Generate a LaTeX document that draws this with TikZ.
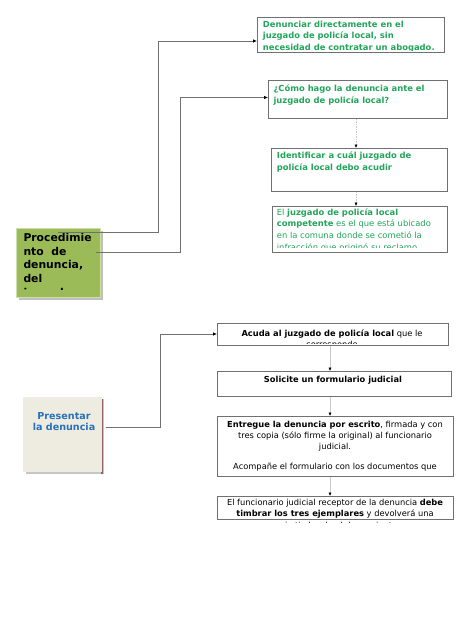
\documentclass[tikz,border=0pt]{standalone}
\usepackage{fontspec}
\setmainfont{DejaVu Sans}
\usetikzlibrary{arrows.meta}
\definecolor{tgreen}{RGB}{35,165,90}
\definecolor{olivefill}{RGB}{155,187,89}
\definecolor{oliveedge}{RGB}{205,222,170}
\definecolor{beigefill}{RGB}{238,236,225}
\definecolor{tblue}{RGB}{40,112,185}
\definecolor{lineg}{RGB}{112,112,112}
\definecolor{faint}{RGB}{200,200,200}
\definecolor{pshadow}{RGB}{140,100,100}
\begin{document}
\begin{tikzpicture}[x=1pt,y=-1pt,
  boxline/.style={draw=lineg, line width=0.9pt, anchor=north west, inner sep=0pt},
  gtxt/.style={inner sep=0pt, text=tgreen, font=\fontsize{8.4}{10}\selectfont},
  btxt/.style={inner sep=0pt, text=black, font=\fontsize{8.3}{10}\selectfont, anchor=base},
  ptxt/.style={inner sep=0pt, text=black, font=\fontsize{10.8}{12}\selectfont\bfseries, anchor=base west},
  conn/.style={draw=lineg, line width=0.9pt, -{Latex[length=4pt,width=3.6pt,color=black]}},
  vconn/.style={draw=faint, line width=0.8pt, -{Latex[length=3.5pt,width=3.2pt,color=black]}},
  tconn/.style={draw=faint, line width=0.8pt, dash pattern=on 1.5pt off 1pt, -{Latex[length=3.5pt,width=3.2pt,color=black]}}
]
\useasboundingbox (0,0) rectangle (474,632);
\fill[white] (0,0) rectangle (474,632);

% ---------- upper part ----------
\node[boxline, minimum width=187pt, minimum height=35pt] (b1) at (257,17) {};
\node[boxline, minimum width=179pt, minimum height=38pt] (b2) at (268,80) {};
\node[boxline, minimum width=176pt, minimum height=43pt] (b3) at (271,148) {};
\node[boxline, minimum width=175pt, minimum height=46pt] (b4) at (272,206) {};

\begin{scope}
\clip (257,17) rectangle (444,50.6);
\node[gtxt, anchor=base west] (b1l1) at (262.7,27.3) {\bfseries Denunciar directamente en el};
\node[gtxt, anchor=base west] (b1l2) at (262.7,38.7) {\bfseries juzgado de policía local, sin};
\node[gtxt, anchor=base west] (b1l3) at (262.7,50.3) {\bfseries necesidad de contratar un abogado.};
\end{scope}

\node[gtxt, anchor=base west] (b2l1) at (273.3,91.7) {\bfseries ¿Cómo hago la denuncia ante el};
\node[gtxt, anchor=base west] (b2l2) at (273.3,103.3) {\bfseries juzgado de policía local?};

\node[gtxt, anchor=base west] (b3l1) at (276.7,158.3) {\bfseries Identificar a cuál juzgado de};
\node[gtxt, anchor=base west] (b3l2) at (276.7,170) {\bfseries policía local debo acudir};

\begin{scope}
\clip (272,206) rectangle (447,247.8);
\node[gtxt, anchor=base west] (b4l1) at (276.7,215) {El \bfseries juzgado de policía local};
\node[gtxt, anchor=base west] (b4l2) at (276.7,226.7) {\textbf{competente} es el que está ubicado};
\node[gtxt, anchor=base west] (b4l3) at (276.7,238.5) {en la comuna donde se cometió la};
\node[gtxt, anchor=base west] (b4l4) at (276.7,250.4) {infracción que originó su reclamo};
\end{scope}

% green box
\fill[gray!50] (18.5,230.5) rectangle (103,300);
\node[anchor=north west, fill=olivefill, draw=oliveedge, line width=1.2pt, minimum width=84pt, minimum height=69pt, inner sep=0pt] (gbox) at (16,228) {};
\begin{scope}
\clip (16,228) rectangle (101,289.3);
\node[ptxt] (gl1) at (23.3,241.5) {Procedimie};
\node[ptxt] (gl2) at (23.3,255.2) {nto\ \ de};
\node[ptxt] (gl3) at (23.3,268.9) {denuncia,};
\node[ptxt] (gl4) at (23.3,282.6) {del};
\node[ptxt] (gl5) at (23.3,296.3) {juzgado};
\end{scope}

\coordinate (g1) at (58,232);
\coordinate (k1) at (158,41);
\coordinate (g2) at (96,252);
\coordinate (k2) at (180,97.5);
\draw[conn] (g1) -| (k1) -- (k1 -| b1.west);
\draw[conn] (g2) -| (k2) -- (k2 -| b2.west);

\coordinate (vt) at (356,0);
\draw[tconn] (b2.south -| vt) -- (b3.north -| vt);
\draw[tconn] (b3.south -| vt) -- (b4.north -| vt);

% ---------- lower part ----------
\fill[gray!45] (25.5,399) rectangle (103.5,474);
\fill[pshadow] (101.3,399) rectangle (103.3,474);
\node[anchor=north west, fill=beigefill, draw=white!85!gray, line width=0.6pt, minimum width=78pt, minimum height=74pt, inner sep=0pt] (pbox) at (23,397) {};
\node[inner sep=0pt, anchor=base, text=tblue, font=\fontsize{9.6}{11}\selectfont\bfseries] (pl1) at (64,419) {Presentar};
\node[inner sep=0pt, anchor=base, text=tblue, font=\fontsize{9.6}{11}\selectfont\bfseries] (pl2) at (64,430.7) {la denuncia};

\node[boxline, minimum width=231pt, minimum height=22pt] (bA) at (217,323) {};
\node[boxline, minimum width=234pt, minimum height=25pt] (bB) at (217,371) {};
\node[boxline, minimum width=236pt, minimum height=60pt] (bC) at (217,416) {};
\node[boxline, minimum width=236pt, minimum height=23pt] (bD) at (217,496) {};

\begin{scope}
\clip (217,323) rectangle (448,343.2);
\node[btxt] (aL1) at (332,336) {\textbf{Acuda al juzgado de policía local} que le};
\node[btxt] (aL2) at (332,347.6) {corresponde};
\end{scope}

\node[btxt] (bL1) at (333,382.3) {\textbf{Solicite un formulario judicial}};

\begin{scope}
\clip (217,416) rectangle (453,473.5);
\node[btxt] (cL1) at (335,427.3) {\textbf{Entregue la denuncia por escrito}, firmada y con};
\node[btxt] (cL2) at (335,438.3) {tres copia (sólo firme la original) al funcionario};
\node[btxt] (cL3) at (335,449.3) {judicial.};
\node[btxt] (cL4) at (335,469) {Acompañe el formulario con los documentos que};
\end{scope}

\begin{scope}
\clip (217,496) rectangle (453,522.6);
\node[btxt] (dL1) at (335,505.7) {El funcionario judicial receptor de la denuncia \textbf{debe}};
\node[btxt] (dL2) at (335,516.7) {\textbf{timbrar los tres ejemplares} y devolverá una};
\node[btxt] (dL3) at (335,528.6) {copia timbrada al denunciante.};
\end{scope}

\coordinate (p1) at (106,427);
\coordinate (k3) at (160.7,334);
\draw[conn] (p1) -| (k3) -- (k3 -| bA.west);

\coordinate (vx) at (330,0);
\draw[vconn] (bA.south -| vx) -- (bB.north -| vx);
\draw[vconn] (bB.south -| vx) -- (bC.north -| vx);
\draw[vconn] (bC.south -| vx) -- (bD.north -| vx);
\end{tikzpicture}
\end{document}
